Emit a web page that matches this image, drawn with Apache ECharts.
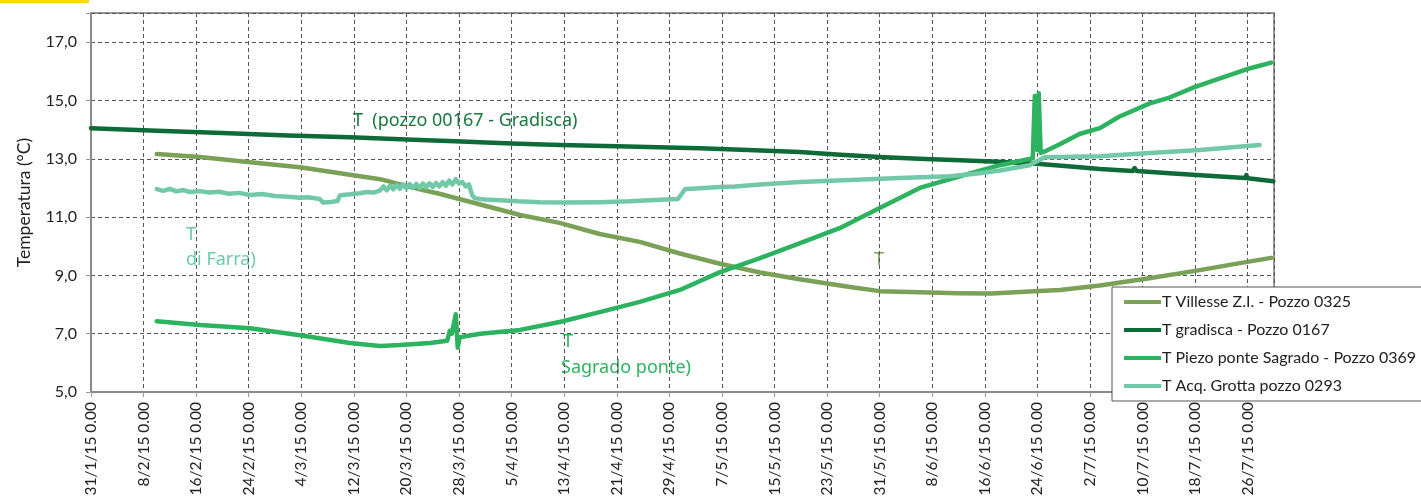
<!DOCTYPE html>
<html lang="it">
<head>
<meta charset="UTF-8">
<title>Temperature pozzi</title>
<script src="https://cdn.jsdelivr.net/npm/echarts@6/dist/echarts.min.js"></script>
<style>
  html, body { margin: 0; padding: 0; background: #fff; }
  #chart { width: 1421px; height: 499px; }
</style>
</head>
<body>
<div id="chart"></div>
<script>
// giorni contati dal 31/1/15 0.00
var tickLabels = ['31/1/15 0.00', '8/2/15 0.00', '16/2/15 0.00', '24/2/15 0.00', '4/3/15 0.00',
  '12/3/15 0.00', '20/3/15 0.00', '28/3/15 0.00', '5/4/15 0.00', '13/4/15 0.00', '21/4/15 0.00',
  '29/4/15 0.00', '7/5/15 0.00', '15/5/15 0.00', '23/5/15 0.00', '31/5/15 0.00', '8/6/15 0.00',
  '16/6/15 0.00', '24/6/15 0.00', '2/7/15 0.00', '10/7/15 0.00', '18/7/15 0.00', '26/7/15 0.00'];

var seriesNames = ['T Villesse Z.I. - Pozzo 0325', 'T gradisca - Pozzo 0167',
  'T Piezo ponte Sagrado - Pozzo 0369', 'T Acq. Grotta pozzo 0293'];

var villesseDays = [10, 16.6, 25.7, 31.8, 39.4, 44, 50, 53, 57.2, 65.3, 71.3, 77.4, 83.5, 89.6, 95.7,
  101.8, 107.8, 115.5, 120, 126, 132, 137, 141.3, 147.4, 153.5, 161, 168.7, 174.8, 179.6];
var villesseTemp = [13.16, 13.06, 12.85, 12.71, 12.45, 12.3, 11.95, 11.8, 11.55, 11.07, 10.8, 10.42, 10.15, 9.75, 9.4,
  9.1, 8.87, 8.6, 8.46, 8.42, 8.39, 8.38, 8.43, 8.5, 8.65, 8.9, 9.18, 9.42, 9.6];

var gradiscaDays = [0, 10, 20, 30, 39.4, 48, 55.4, 64, 71.3, 80, 92.6, 100, 107.8, 114, 120, 126, 132.2,
  138, 144.4, 150, 153.5, 158.5, 158.8, 159.1, 164.1, 170, 175.6, 175.8, 176, 179.9];
var gradiscaTemp = [14.05, 13.96, 13.88, 13.8, 13.74, 13.66, 13.6, 13.52, 13.47, 13.43, 13.36, 13.3, 13.23, 13.14, 13.06, 13.0, 12.95,
  12.9, 12.82, 12.72, 12.65, 12.58, 12.68, 12.58, 12.5, 12.42, 12.34, 12.44, 12.33, 12.23];

var sagradoDays = [10, 16.6, 24.2, 31.8, 39.4, 44, 47, 51.6, 54.2, 54.6, 54.9, 55.5, 55.8, 56.1, 59.2,
  65.3, 71.3, 77.4, 83.5, 89.6, 95.7, 101.8, 107.8, 113.9, 120, 126.1, 132.2, 138.3, 143.3,
  143.6, 143.8, 144.0, 144.2, 144.5, 145.1, 147.4, 150.4, 153.5, 156.5, 161.1, 164.1, 167.9, 171, 175.8, 179.6];
var sagradoTemp = [7.43, 7.3, 7.19, 6.95, 6.68, 6.58, 6.61, 6.68, 6.76, 7.1, 7.0, 7.67, 6.52, 6.88, 7.0,
  7.13, 7.4, 7.74, 8.09, 8.5, 9.11, 9.59, 10.1, 10.62, 11.31, 12.0, 12.4, 12.78, 13.02,
  15.15, 15.0, 13.3, 15.25, 13.2, 13.25, 13.5, 13.85, 14.05, 14.45, 14.9, 15.1, 15.46, 15.7, 16.07, 16.3];

var grottaDays = [10, 11, 12, 13, 14, 15, 16.6, 18, 19.5, 21, 22.5, 24.2, 26, 28, 30, 31.8, 33, 34.8, 35.3,
  36.5, 37.5, 37.9, 39.4, 40.9, 42, 43, 44, 44.5, 45, 45.5, 46, 46.5, 47, 47.5, 48, 48.5, 49, 49.5, 50,
  50.5, 51, 51.5, 52, 52.5, 53, 53.5, 54, 54.5, 55, 55.5, 56, 56.5, 57, 57.5, 58, 58.4, 59.2, 60, 62.2,
  65, 68.3, 72, 77.4, 82, 85, 89.3, 90.4, 92, 95.7, 98, 101.8, 107.8, 115.5, 123.1, 130.7, 135.2, 138.3,
  142.8, 145.1, 153.5, 161.1, 168.7, 177.8];
var grottaTemp = [11.96, 11.9, 11.97, 11.88, 11.93, 11.86, 11.89, 11.84, 11.87, 11.8, 11.83, 11.76, 11.79, 11.72, 11.7, 11.66, 11.68, 11.62, 11.5,
  11.52, 11.55, 11.75, 11.78, 11.82, 11.86, 11.84, 11.92, 12.05, 11.92, 12.08, 11.95, 12.1, 11.97, 12.12, 11.98, 12.13, 12.0, 12.14, 12.0,
  12.15, 12.02, 12.16, 12.03, 12.17, 12.05, 12.2, 12.07, 12.25, 12.12, 12.3, 12.15, 12.2, 12.05, 12.12, 11.75, 11.65, 11.62, 11.6, 11.58,
  11.54, 11.51, 11.5, 11.51, 11.54, 11.58, 11.62, 11.96, 11.98, 12.03, 12.05, 12.12, 12.2, 12.27, 12.34, 12.4, 12.5, 12.6,
  12.78, 13.05, 13.09, 13.2, 13.3, 13.47];

var lineColors = ['#7aa157', '#0e6a36', '#2db35f', '#72c9a7'];

function pairs(days, vals) {
  var out = [];
  for (var i = 0; i < days.length; i++) out.push([days[i], vals[i]]);
  return out;
}

var chart = echarts.init(document.getElementById('chart'));
var font = 'Lato, "Noto Sans", sans-serif';
var annFont = '"Noto Sans", sans-serif';

var allData = [
  pairs(villesseDays, villesseTemp),
  pairs(gradiscaDays, gradiscaTemp),
  pairs(sagradoDays, sagradoTemp),
  pairs(grottaDays, grottaTemp)
];

var series = [];
for (var s = 0; s < 4; s++) {
  series.push({
    name: seriesNames[s],
    type: 'line',
    data: allData[s],
    showSymbol: false,
    symbol: 'none',
    color: lineColors[s],
    lineStyle: { width: 4.5, color: lineColors[s], join: 'round', cap: 'round' }
  });
}

var option = {
  animation: false,
  grid: {
    left: 91, top: 13, right: 147, bottom: 107,
    show: true, borderColor: '#777', borderWidth: 1.5
  },
  xAxis: {
    type: 'value',
    min: 0, max: 180, interval: 8,
    axisLine: { show: true, lineStyle: { color: '#8a8a8a', width: 2 } },
    axisTick: { show: true, length: 5, lineStyle: { color: '#999' } },
    axisLabel: {
      rotate: 90, margin: 10, fontSize: 15.5, color: '#222', fontFamily: font,
      formatter: function (v) {
        var i = v / 8;
        return (Math.abs(i - Math.round(i)) < 1e-6 && i < tickLabels.length) ? tickLabels[Math.round(i)] : '';
      }
    },
    splitLine: { show: true, lineStyle: { color: '#555', type: [4, 3], width: 1 } }
  },
  yAxis: {
    type: 'value',
    min: 5, max: 18, interval: 2,
    name: 'Temperatura (°C)',
    nameLocation: 'middle',
    nameGap: 58,
    nameTextStyle: { fontSize: 17.5, color: '#222', fontFamily: font },
    axisLine: { show: true, lineStyle: { color: '#8a8a8a', width: 2 } },
    axisTick: { show: true, length: 5, lineStyle: { color: '#999' } },
    axisLabel: {
      margin: 14, fontSize: 16, color: '#222', fontFamily: font,
      formatter: function (v) { return v >= 18 ? '' : v.toFixed(1).replace('.', ','); }
    },
    splitLine: { show: true, lineStyle: { color: '#555', type: [4, 3], width: 1 } }
  },
  legend: {
    orient: 'vertical',
    left: 1112, top: 287,
    padding: [7, 30, 7, 12],
    itemGap: 12,
    itemWidth: 37, itemHeight: 4,
    icon: 'rect',
    backgroundColor: '#fff',
    borderColor: '#555', borderWidth: 1,
    textStyle: { fontSize: 16, color: '#222', fontFamily: font, padding: [0, 0, 0, -4] },
    data: seriesNames
  },
  graphic: [
    { type: 'rect', left: 0, top: 0, shape: { width: 89, height: 3 }, style: { fill: '#ffd800' } },
    { type: 'text', x: 353, y: 121, style: { text: 'T  (pozzo 00167 - Gradisca)', fill: '#17773d', font: '18px ' + annFont, verticalAlign: 'middle' } },
    { type: 'text', x: 186, y: 235, style: { text: 'T', fill: '#6ecaa6', font: '18px ' + annFont, verticalAlign: 'middle' } },
    { type: 'text', x: 186, y: 260, style: { text: 'di Farra)', fill: '#6ecaa6', font: '18px ' + annFont, verticalAlign: 'middle' } },
    { type: 'text', x: 563, y: 342, style: { text: 'T', fill: '#2db35f', font: '18px ' + annFont, verticalAlign: 'middle' } },
    { type: 'text', x: 561, y: 368, style: { text: 'Sagrado ponte)', fill: '#2db35f', font: '18px ' + annFont, verticalAlign: 'middle' } },
    { type: 'text', x: 874, y: 260, style: { text: 'T', fill: '#7aa157', font: '18px ' + annFont, verticalAlign: 'middle' } }
  ],
  series: series
};

chart.setOption(option);
</script>
</body>
</html>
